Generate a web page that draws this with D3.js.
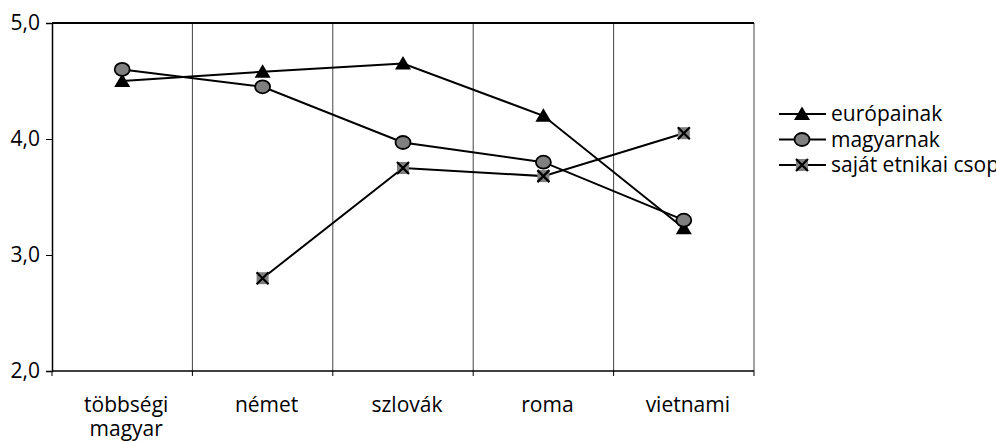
<!DOCTYPE html>
<html>
<head>
<meta charset="utf-8">
<script src="https://cdn.jsdelivr.net/npm/d3@7"></script>
<style>
  body { margin: 0; background: #fff; }
  text { font-family: "Open Sans", "Noto Sans", sans-serif; fill: #000; }
</style>
</head>
<body>
<svg id="chart"></svg>
<script>
// categories on the x axis (second line after \n)
const categories = ["többségi\nmagyar", "német", "szlovák", "roma", "vietnami"];
const yTicks = [2, 3, 4, 5];

// series values, null = missing
const europainak = [4.50, 4.58, 4.65, 4.20, 3.23];
const magyarnak = [4.60, 4.45, 3.97, 3.80, 3.30];
const sajatCsoport = [null, 2.80, 3.75, 3.68, 4.05];

const series = [
  { name: "európainak", values: europainak, marker: "triangle" },
  { name: "magyarnak", values: magyarnak, marker: "circle" },
  { name: "saját etnikai csoportjának", values: sajatCsoport, marker: "x" }
];

const width = 996, height = 441;
const margin = { top: 23, right: 242, bottom: 70, left: 52 };
const w = width - margin.left - margin.right;
const h = height - margin.top - margin.bottom;
const fontSize = 21;

const svg = d3.select("#chart").attr("width", width).attr("height", height);
const g = svg.append("g").attr("transform", `translate(${margin.left},${margin.top})`);

const x = d3.scaleBand().domain(categories).range([0, w]);
const y = d3.scaleLinear().domain([2, 5]).range([h, 0]);

// vertical grid lines between categories
g.selectAll(".grid")
  .data(categories.slice(1))
  .enter().append("line")
  .attr("x1", d => x(d)).attr("x2", d => x(d))
  .attr("y1", 0).attr("y2", h)
  .attr("stroke", "#444").attr("stroke-width", 1);

// plot frame
g.append("line").attr("x1", w).attr("x2", w).attr("y1", 0).attr("y2", h)
  .attr("stroke", "#444").attr("stroke-width", 1);
g.append("line").attr("x1", 0).attr("x2", w).attr("y1", 0).attr("y2", 0)
  .attr("stroke", "#000").attr("stroke-width", 2);

// Y axis
const yAxis = g.append("g")
  .call(d3.axisLeft(y).tickValues(yTicks).tickSize(6).tickFormat(d => d3.format(".1f")(d).replace(".", ",")));
yAxis.attr("font-size", fontSize);
yAxis.select(".domain").attr("stroke", "#000").attr("stroke-width", 1.5);
yAxis.selectAll(".tick line").attr("stroke", "#000");
yAxis.selectAll("text").attr("font-size", fontSize).attr("dx", -3).attr("dy", "0.33em");

// X axis with ticks at band boundaries
const xAxis = g.append("g").attr("transform", `translate(0,${h})`);
xAxis.append("line").attr("x1", 0).attr("x2", w).attr("y1", 0).attr("y2", 0)
  .attr("stroke", "#000").attr("stroke-width", 1.5);
xAxis.selectAll(".tk")
  .data(categories.concat(["end"]))
  .enter().append("line")
  .attr("x1", (d, i) => i < categories.length ? x(d) : w)
  .attr("x2", (d, i) => i < categories.length ? x(d) : w)
  .attr("y1", 0).attr("y2", 5).attr("stroke", "#000");
xAxis.selectAll(".lbl")
  .data(categories)
  .enter().append("text")
  .attr("text-anchor", "middle")
  .attr("font-size", fontSize)
  .attr("transform", d => `translate(${x(d) + x.bandwidth() / 2 + 4},0)`)
  .each(function (d) {
    const parts = d.split("\n");
    d3.select(this).selectAll("tspan").data(parts).enter().append("tspan")
      .attr("x", 0).attr("y", (p, i) => 41 + i * 24).text(p => p);
  });

// lines
const cx = i => x(categories[i]) + x.bandwidth() / 2;
const line = d3.line()
  .defined(d => d != null)
  .x((d, i) => cx(i))
  .y(d => y(d));

series.forEach(s => {
  g.append("path").datum(s.values)
    .attr("fill", "none").attr("stroke", "#000").attr("stroke-width", 2)
    .attr("d", line);
});

function drawMarker(sel, type) {
  if (type === "triangle") {
    sel.append("path").attr("d", "M0,-7.5L8,6L-8,6Z").attr("fill", "#000");
  } else if (type === "circle") {
    sel.append("ellipse").attr("rx", 7.5).attr("ry", 6.5)
      .attr("fill", "#808080").attr("stroke", "#000").attr("stroke-width", 1.8);
  } else {
    sel.append("rect").attr("x", -6).attr("y", -6).attr("width", 12).attr("height", 12)
      .attr("fill", "#808080");
    sel.append("path").attr("d", "M-6,-6L6,6M6,-6L-6,6")
      .attr("stroke", "#000").attr("stroke-width", 2.2);
  }
}

series.forEach(s => {
  s.values.forEach((v, i) => {
    if (v == null) return;
    drawMarker(g.append("g").attr("transform", `translate(${cx(i)},${y(v)})`), s.marker);
  });
});

// legend
const legend = svg.append("g").attr("transform", "translate(779,114)");
series.forEach((s, i) => {
  const row = legend.append("g").attr("transform", `translate(0,${i * 25.5})`);
  row.append("line").attr("x1", 0).attr("x2", 47).attr("y1", 0).attr("y2", 0)
    .attr("stroke", "#000").attr("stroke-width", 2);
  drawMarker(row.append("g").attr("transform", "translate(23,0)"), s.marker);
  row.append("text").attr("x", 52).attr("y", 7).attr("font-size", fontSize).text(s.name);
});
</script>
</body>
</html>
